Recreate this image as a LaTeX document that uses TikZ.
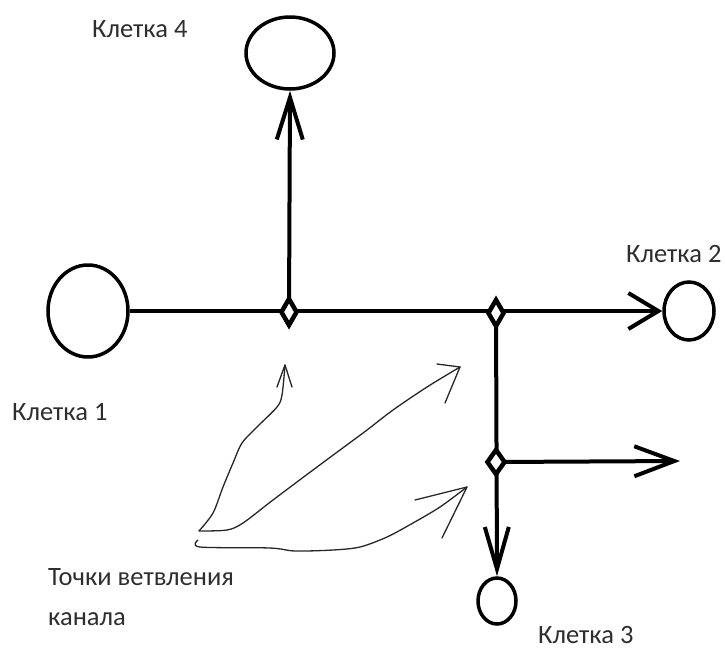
\documentclass[tikz,border=0pt]{standalone}
\usepackage{fontspec}
\setmainfont{Carlito}
\usetikzlibrary{arrows.meta,shapes.geometric}
\definecolor{txt}{HTML}{2E2E2E}
\tikzset{
  cell/.style={draw=black, line width=3.5pt, ellipse, inner sep=0pt, fill=white},
  branchpt/.style={draw=black, line width=4.5pt, diamond, inner sep=0pt, fill=white, minimum width=17pt, minimum height=28pt},
  chan/.style={line width=4pt, draw=black},
  lbl/.style={text=txt, font=\fontsize{26.5}{31}\selectfont, anchor=base west, inner sep=0pt},
  hand/.style={line width=1.3pt, draw=black!85, line cap=round, line join=round},
}
\begin{document}
\begin{tikzpicture}[x=1pt,y=-1pt]
\useasboundingbox (0,0) rectangle (725,651);
% cells
\node[cell, minimum width=80pt, minimum height=92pt] (c1) at (88,311) {};
\node[cell, minimum width=88pt, minimum height=72pt] (c4) at (290,53) {};
\node[cell, minimum width=50pt, minimum height=58pt] (c2) at (689,311) {};
\node[cell, minimum width=38pt, minimum height=46pt] (c3) at (497,601) {};
% branch point coordinates
\coordinate (p1) at (289,312);
\coordinate (p2) at (496,313);
\coordinate (p3) at (496,462);
\coordinate (e) at (680,461);
% channels
\draw[chan, -{Straight Barb[length=30pt,width=36pt]}] (c1.east) -- (c2.west);
\draw[chan, -{Straight Barb[length=42pt,width=26pt]}] (p1) -- (c4.south);
\draw[chan, -{Straight Barb[length=42pt,width=24pt]}] (p2) -- (c3.north);
\draw[chan, -{Straight Barb[length=40pt,width=30pt]}] (p3) -- (e);
% branch points
\node[branchpt] (d1) at (p1) {};
\node[branchpt] (d2) at (p2) {};
\node[branchpt, minimum width=19pt, minimum height=26pt] (d3) at (p3) {};
% labels
\node[lbl] (l4) at (92,37) {Клетка 4};
\node[lbl] (l1) at (12,420) {Клетка 1};
\node[lbl] (l2) at (626,262) {Клетка 2};
\node[lbl] (l3) at (538,643) {Клетка 3};
\node[lbl] (t1) at (48,585) {Точки ветвления};
\node[lbl] (t2) at (48,625) {канала};
% hand-drawn pointers
\coordinate (s) at (199,531);
\coordinate (a1) at (285,365);
\coordinate (a2) at (460,367);
\coordinate (a3) at (467,487);
\draw[hand] plot[smooth] coordinates {(s) (213,513) (223,487) (233,463) (242,443) (257,427) (277,407) (282,395) (a1)};
\draw[hand] (277,387) -- (a1) -- (292,387);
\draw[hand] plot[smooth] coordinates {(s) (227,530) (243,523) (273,500) (313,470) (340,450) (367,430) (393,410) (427,387) (a2)};
\draw[hand] (437,364) -- (a2) -- (445,403);
\draw[hand] plot[smooth] coordinates {(198,540) (200,547) (270,548) (295,551) (333,550) (360,547) (387,537) (413,523) (440,507) (a3)};
\draw[hand] (415,500) -- (a3) -- (442,538);
\end{tikzpicture}
\end{document}
